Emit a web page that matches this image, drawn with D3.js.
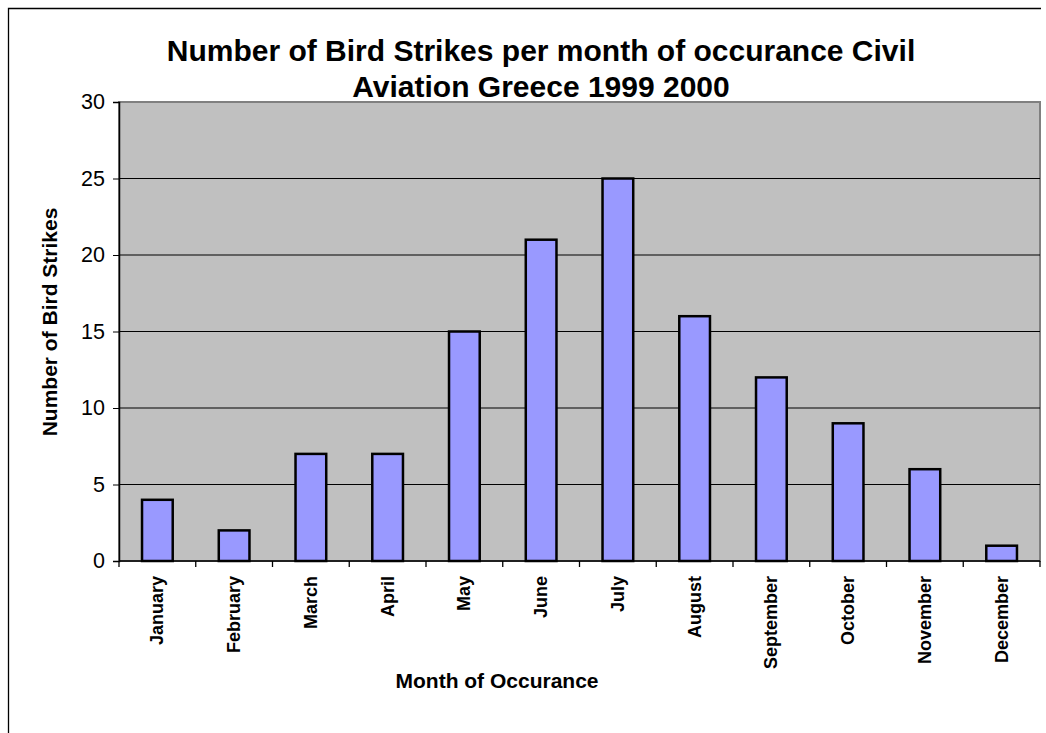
<!DOCTYPE html>
<html>
<head>
<meta charset="utf-8">
<script src="https://cdn.jsdelivr.net/npm/d3@7"></script>
<style>
  body { margin: 0; background: #fff; }
  svg text { font-family: "Liberation Sans", Arial, sans-serif; }
</style>
</head>
<body>
<div id="chart"></div>
<script>
// Data
var months = ["January", "February", "March", "April", "May", "June",
              "July", "August", "September", "October", "November", "December"];
var strikes = [4, 2, 7, 7, 15, 21, 25, 16, 12, 9, 6, 1];
var yTicks = [0, 5, 10, 15, 20, 25, 30];

var width = 1046, height = 733;
var plot = {left: 119, top: 102, right: 1040, bottom: 561};

var svg = d3.select("#chart").append("svg")
  .attr("width", width)
  .attr("height", height);

// outer frame (only top and left edges visible)
svg.append("path")
  .attr("d", "M8.5,733V8.5H1041")
  .attr("fill", "none")
  .attr("stroke", "#000")
  .attr("stroke-width", 1.3);

var x = d3.scaleBand()
  .domain(months)
  .range([plot.left, plot.right])
  .paddingInner(0.6)
  .paddingOuter(0.3);

var xEdges = d3.scaleLinear().domain([0, months.length]).range([plot.left, plot.right]);

var y = d3.scaleLinear()
  .domain([0, 30])
  .range([plot.bottom, plot.top]);

// plot area
svg.append("rect")
  .attr("x", plot.left)
  .attr("y", plot.top)
  .attr("width", plot.right - plot.left)
  .attr("height", plot.bottom - plot.top)
  .attr("fill", "#c0c0c0")
  .attr("stroke", "#808080")
  .attr("stroke-width", 2);

// gridlines
svg.append("g")
  .selectAll("line")
  .data(yTicks.filter(function(d){ return d > 0 && d < 30; }))
  .join("line")
  .attr("x1", plot.left)
  .attr("x2", plot.right)
  .attr("y1", function(d){ return y(d); })
  .attr("y2", function(d){ return y(d); })
  .attr("stroke", "#000")
  .attr("stroke-width", 1);

// bars
svg.append("g")
  .selectAll("rect")
  .data(strikes)
  .join("rect")
  .attr("x", function(d, i){ return x(months[i]); })
  .attr("y", function(d){ return y(d); })
  .attr("width", x.bandwidth())
  .attr("height", function(d){ return y(0) - y(d); })
  .attr("fill", "#9999ff")
  .attr("stroke", "#000")
  .attr("stroke-width", 2.5);

// y axis
var yAxis = svg.append("g")
  .attr("transform", "translate(" + plot.left + ",0)")
  .call(d3.axisLeft(y).tickValues(yTicks).tickSize(6).tickPadding(8));
yAxis.select(".domain").attr("stroke", "#000").attr("stroke-width", 1.5);
yAxis.selectAll("text").attr("font-size", 21.5).attr("fill", "#000");

// x axis
var xAxis = svg.append("g")
  .attr("transform", "translate(0," + plot.bottom + ")");
xAxis.append("line")
  .attr("x1", plot.left).attr("x2", plot.right)
  .attr("stroke", "#000").attr("stroke-width", 1.5);
xAxis.selectAll("line.tick")
  .data(d3.range(months.length + 1))
  .join("line")
  .attr("class", "tick")
  .attr("x1", function(d){ return xEdges(d); })
  .attr("x2", function(d){ return xEdges(d); })
  .attr("y1", 0).attr("y2", 6)
  .attr("stroke", "#000").attr("stroke-width", 1.3);
xAxis.selectAll("text")
  .data(months)
  .join("text")
  .attr("transform", function(d){
    return "translate(" + (x(d) + x.bandwidth() / 2 + 6) + ",15) rotate(-90)";
  })
  .attr("text-anchor", "end")
  .attr("font-size", 18)
  .attr("font-weight", "bold")
  .text(function(d){ return d; });

// titles
var title = svg.append("text")
  .attr("text-anchor", "middle")
  .attr("font-size", 30)
  .attr("font-weight", "bold");
title.append("tspan").attr("x", 541).attr("y", 61)
  .text("Number of Bird Strikes per month of occurance Civil");
title.append("tspan").attr("x", 541).attr("y", 97)
  .text("Aviation Greece 1999 2000");

svg.append("text")
  .attr("x", 497).attr("y", 688)
  .attr("text-anchor", "middle")
  .attr("font-size", 21)
  .attr("font-weight", "bold")
  .text("Month of Occurance");

svg.append("text")
  .attr("transform", "translate(57,322) rotate(-90)")
  .attr("text-anchor", "middle")
  .attr("font-size", 21)
  .attr("font-weight", "bold")
  .text("Number of Bird Strikes");
</script>
</body>
</html>
